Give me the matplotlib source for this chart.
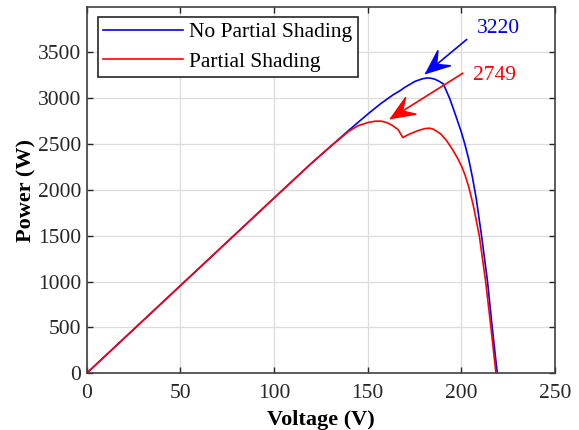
import matplotlib
matplotlib.use("Agg")
import matplotlib.pyplot as plt
import numpy as np
from matplotlib.patches import Polygon

# ============================================================
# DATOS
# ============================================================

v_sin_sombra = [0, 50, 100, 120, 130, 140, 150.3, 157, 163.5, 167.2, 170, 172.6, 175,
                177, 179.5, 182, 184, 186, 188, 190.4, 193.9, 197, 200, 202, 204, 206,
                208, 210.8, 214, 216.5, 219.2]
p_sin_sombra = [0, 955, 1910, 2290, 2470, 2650, 2830, 2940, 3035, 3080, 3120, 3150, 3180,
                3195, 3212, 3220, 3216, 3205, 3185, 3155, 2990, 2810, 2630, 2490, 2330,
                2130, 1900, 1500, 1000, 500, 0]

v_sombra = [0, 50, 100, 120, 130, 140, 145, 150.3, 154, 157, 160, 163, 166.3, 168.8,
            171, 174.3, 177.5, 180.6, 183, 185, 189, 192, 195, 198, 200.2, 202, 204,
            206.5, 209.6, 213, 215.8, 218.5]
p_sombra = [0, 955, 1910, 2290, 2470, 2640, 2700, 2735, 2748, 2749, 2735, 2705, 2655,
            2570, 2595, 2625, 2650, 2668, 2672, 2662, 2610, 2540, 2450, 2345, 2255, 2160,
            2030, 1820, 1500, 1000, 500, 0]

# flechas: (cola, punta) en unidades de datos
flecha_sin_sombra = ((202.8, 3638), (181.1, 3270))
flecha_sombra = ((200.7, 3270), (162.3, 2778))

x_ticks = [0, 50, 100, 150, 200, 250]
y_ticks = [0, 500, 1000, 1500, 2000, 2500, 3000, 3500]

# ============================================================
# FIGURA
# ============================================================

plt.rcParams["font.family"] = ["Liberation Serif", "DejaVu Serif"]

fig = plt.figure(figsize=(5.79, 4.30), dpi=100)
ax = fig.add_axes([0.1497, 0.1319, 0.8088, 0.8511])

ax.plot(v_sin_sombra, p_sin_sombra, color="blue", lw=1.2, label="No Partial Shading")
ax.plot(v_sombra, p_sombra, color="red", lw=1.2, label="Partial Shading")

ax.set_xlim(0, 250)
ax.set_ylim(0, 3990)
ax.set_xticks(x_ticks)
ax.set_yticks(y_ticks)
ax.tick_params(direction="in", length=4, width=1, labelsize=15.5, colors="#262626",
               top=True, right=True)
ax.tick_params(axis="x", pad=8)
ax.tick_params(axis="y", pad=4)
for s in ax.spines.values():
    s.set_color("#404040")
    s.set_linewidth(1.2)
ax.grid(True, color="#dcdcdc", lw=0.9)
ax.set_axisbelow(True)

ax.set_xlabel("Voltage (V)", fontsize=16, fontweight="bold", labelpad=5)
ax.set_ylabel("Power (W)", fontsize=16, fontweight="bold", labelpad=1)


def flecha(cola, punta, color):
    # línea + punta cóncava al estilo MATLAB, dibujada en píxeles
    ax.plot([cola[0], punta[0]], [cola[1], punta[1]], color=color, lw=1.2)
    fig.canvas.draw()
    t = ax.transData.transform([cola, punta])
    d = t[1] - t[0]
    d = d / np.hypot(*d)
    n = np.array([-d[1], d[0]])
    tip = t[1]
    largo, ancho, muesca = 24, 10, 14
    pts = [tip, tip - largo * d + ancho * n, tip - muesca * d, tip - largo * d - ancho * n]
    ax.add_patch(Polygon(pts, closed=True, color=color, transform=None, zorder=5))


flecha(*flecha_sin_sombra, "blue")
flecha(*flecha_sombra, "red")
ax.text(219.8, 3760, "3220", color="blue", fontsize=15.5, ha="center", va="center")
ax.text(217.7, 3252, "2749", color="red", fontsize=15.5, ha="center", va="center")

leg = ax.legend(loc="upper left", fontsize=15.5, frameon=True, fancybox=False,
                edgecolor="#262626", framealpha=1, handlelength=3.7,
                borderpad=0.25, labelspacing=0.43, handletextpad=0.3,
                borderaxespad=0, bbox_to_anchor=(0.024, 0.9735))
leg.get_frame().set_linewidth(1.2)

fig.savefig("out.png", dpi=100)
